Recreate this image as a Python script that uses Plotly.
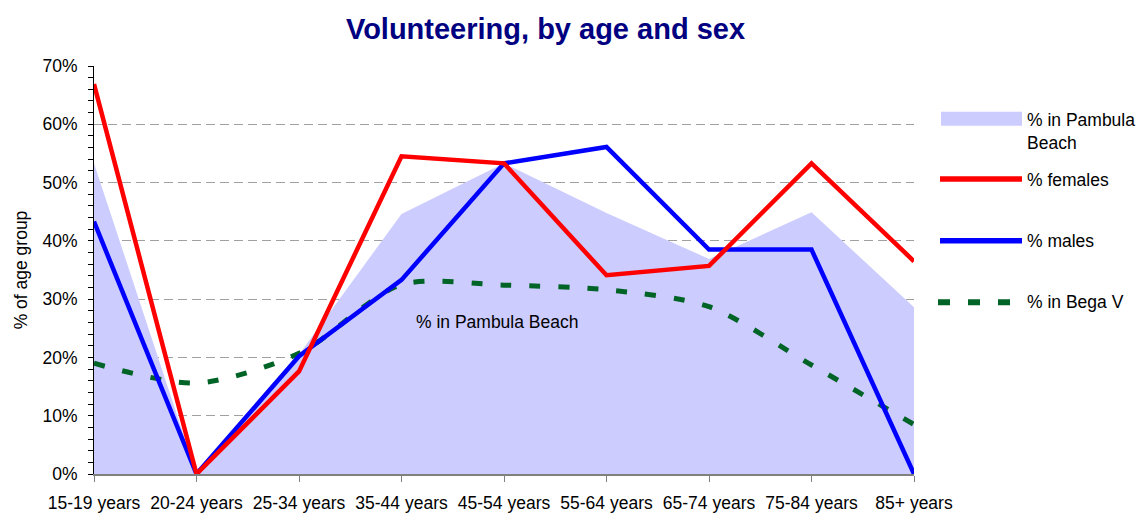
import plotly.graph_objects as go

categories = ["15-19 years", "20-24 years", "25-34 years", "35-44 years", "45-54 years",
              "55-64 years", "65-74 years", "75-84 years", "85+ years"]
pambula = [53.3, 0.0, 20.5, 44.6, 53.3, 44.8, 36.9, 44.9, 28.6]
females = [66.9, 0.0, 17.6, 54.5, 53.3, 34.1, 35.7, 53.3, 36.5]
males = [43.3, 0.0, 20.2, 33.3, 53.3, 56.1, 38.5, 38.5, 0.0]
bega = [19.0, 15.6, 20.7, 32.5, 32.4, 31.6, 28.7, 18.7, 8.5]

series_names = ["% in Pambula Beach", "% females", "% males", "% in Bega V"]
y_ticks = [0, 10, 20, 30, 40, 50, 60, 70]

W, H = 1138, 516
L, R, T, B = 94, 224, 66, 42
FONT = "Liberation Sans, Arial, sans-serif"
FS = 17.5

def pxx(p):
    return (p - L) / (W - L - R)

def pxy(p):
    return (H - B - p) / (H - T - B)

fig = go.Figure()
fig.add_trace(go.Scatter(x=categories, y=pambula, mode="lines", fill="tozeroy",
                         fillcolor="#CCCCFF", line=dict(width=0, color="#CCCCFF"),
                         name=series_names[0], showlegend=False))
fig.add_trace(go.Scatter(x=categories, y=bega, mode="lines",
                         line=dict(color="#006426", width=5, dash="11px,18px",
                                   shape="spline", smoothing=0.8),
                         name=series_names[3], showlegend=False))
fig.add_trace(go.Scatter(x=categories, y=males, mode="lines",
                         line=dict(color="#0000FF", width=4.5),
                         name=series_names[2], showlegend=False))
fig.add_trace(go.Scatter(x=categories, y=females, mode="lines",
                         line=dict(color="#FF0000", width=4.5),
                         name=series_names[1], showlegend=False))

# manual legend
shapes = []
shapes.append(dict(type="rect", xref="paper", yref="paper",
                   x0=pxx(941), x1=pxx(1022), y0=pxy(125.7), y1=pxy(111.7),
                   fillcolor="#CCCCFF", line=dict(width=0)))
shapes.append(dict(type="line", xref="paper", yref="paper",
                   x0=pxx(940), x1=pxx(1022), y0=pxy(179), y1=pxy(179),
                   line=dict(color="#FF0000", width=5.5)))
shapes.append(dict(type="line", xref="paper", yref="paper",
                   x0=pxx(940), x1=pxx(1022), y0=pxy(240.7), y1=pxy(240.7),
                   line=dict(color="#0000FF", width=5.5)))
shapes.append(dict(type="line", xref="paper", yref="paper",
                   x0=pxx(938), x1=pxx(1012), y0=pxy(302.3), y1=pxy(302.3),
                   line=dict(color="#006426", width=6, dash="12px,18px")))

annotations = []
legend_text = [("% in Pambula<br>Beach", 131.5), ("% females", 180), ("% males", 241), ("% in Bega V", 302)]
for txt, yy in legend_text:
    annotations.append(dict(text=txt, xref="paper", yref="paper", x=pxx(1025), y=pxy(yy),
                            xanchor="left", yanchor="middle", align="left", showarrow=False,
                            font=dict(family=FONT, size=FS, color="#000000")))
annotations.append(dict(text="% in Pambula Beach", xref="x", yref="y", x=3.93, y=26.1,
                        xanchor="center", yanchor="middle", showarrow=False,
                        font=dict(family=FONT, size=FS, color="#000000")))

fig.update_layout(
    width=W, height=H,
    margin=dict(l=L, r=R, t=T, b=B, pad=0, autoexpand=False),
    paper_bgcolor="white", plot_bgcolor="white",
    title=dict(text="<b>Volunteering, by age and sex</b>", x=545.5 / W, xanchor="center",
               y=1 - 28.5 / H, yanchor="middle", yref="container",
               font=dict(family=FONT, size=29, color="#000080")),
    shapes=shapes, annotations=annotations,
    showlegend=False,
    font=dict(family=FONT, size=FS, color="#000000"),
)
fig.update_xaxes(
    type="category", range=[0, len(categories) - 1], automargin=False,
    showgrid=False, zeroline=False,
    showline=True, linecolor="#808080", linewidth=2,
    ticks="outside", ticklen=6, tickcolor="#808080", tickwidth=1,
    tickfont=dict(family=FONT, size=FS, color="#000000"),
    ticklabelstandoff=6,
)
fig.update_yaxes(
    range=[0, 70], tickvals=y_ticks, ticktext=[f"{v}%" for v in y_ticks], automargin=False,
    showgrid=True, gridcolor="#A0A0A0", griddash="9px,5px", gridwidth=1,
    zeroline=False,
    showline=True, linecolor="#000000", linewidth=1,
    ticks="outside", ticklen=5, tickcolor="#000000",
    minor=dict(dtick=2, ticks="outside", ticklen=5, tickcolor="#000000", showgrid=False),
    tickfont=dict(family=FONT, size=FS, color="#000000"),
    ticklabelstandoff=7,
    title=dict(text="% of age group", standoff=10, font=dict(family=FONT, size=FS, color="#000000")),
)

fig.write_html("out.html", post_script="document.body.style.margin='0';",
               config={"displayModeBar": False})
